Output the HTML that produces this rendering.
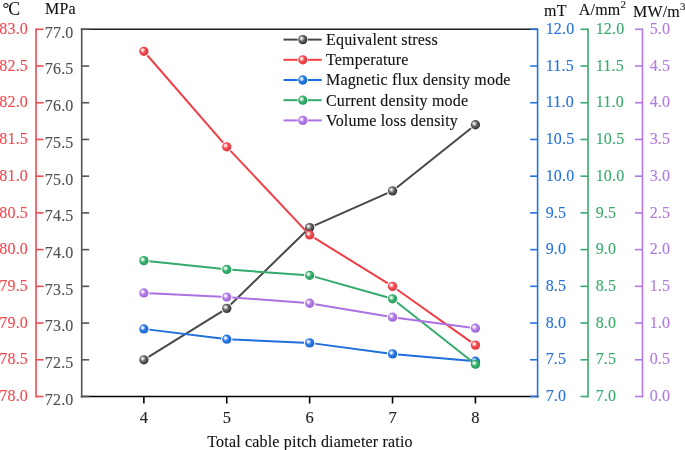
<!DOCTYPE html><html><head><meta charset="utf-8"><style>html,body{margin:0;padding:0;background:#fff;}svg{display:block;will-change:transform;}text{font-family:"Liberation Serif", serif;letter-spacing:0.18px;paint-order:stroke;stroke-width:0.12px;}</style></head><body>
<svg width="685" height="450" viewBox="0 0 685 450">
<defs>
<radialGradient id="sk" cx="0.42" cy="0.42" r="0.62" fx="0.35" fy="0.36"><stop offset="0" stop-color="#ffffff"/><stop offset="0.16" stop-color="#dcdcdc"/><stop offset="0.48" stop-color="#666666"/><stop offset="0.85" stop-color="#3c3c3c"/><stop offset="1" stop-color="#2a2a2a"/></radialGradient>
<radialGradient id="sr" cx="0.42" cy="0.42" r="0.62" fx="0.35" fy="0.36"><stop offset="0" stop-color="#ffffff"/><stop offset="0.16" stop-color="#ffe0e0"/><stop offset="0.48" stop-color="#f04a50"/><stop offset="0.85" stop-color="#e83a40"/><stop offset="1" stop-color="#d02a30"/></radialGradient>
<radialGradient id="sb" cx="0.42" cy="0.42" r="0.62" fx="0.35" fy="0.36"><stop offset="0" stop-color="#ffffff"/><stop offset="0.16" stop-color="#e0ecff"/><stop offset="0.48" stop-color="#2a78e4"/><stop offset="0.85" stop-color="#1f6bd8"/><stop offset="1" stop-color="#1458c0"/></radialGradient>
<radialGradient id="sg" cx="0.42" cy="0.42" r="0.62" fx="0.35" fy="0.36"><stop offset="0" stop-color="#ffffff"/><stop offset="0.16" stop-color="#e0f5e8"/><stop offset="0.48" stop-color="#36b06e"/><stop offset="0.85" stop-color="#2ba262"/><stop offset="1" stop-color="#1f8c50"/></radialGradient>
<radialGradient id="sp" cx="0.42" cy="0.42" r="0.62" fx="0.35" fy="0.36"><stop offset="0" stop-color="#ffffff"/><stop offset="0.16" stop-color="#f4e8ff"/><stop offset="0.48" stop-color="#b07ae6"/><stop offset="0.85" stop-color="#a66ddd"/><stop offset="1" stop-color="#9058c8"/></radialGradient>
</defs>
<rect width="685" height="450" fill="#fff"/>
<line x1="80.80" y1="29.30" x2="537.60" y2="29.30" stroke="#1c1c1c" stroke-width="1.6"/>
<line x1="80.80" y1="396.50" x2="538.50" y2="396.50" stroke="#000" stroke-width="1.6"/>
<line x1="143.87" y1="396.50" x2="143.87" y2="403.50" stroke="#000" stroke-width="1.6"/>
<text x="143.97" y="422.60" fill="#222" stroke="#222" font-size="16.5" text-anchor="middle" >4</text>
<line x1="226.76" y1="396.50" x2="226.76" y2="403.50" stroke="#000" stroke-width="1.6"/>
<text x="226.86" y="422.60" fill="#222" stroke="#222" font-size="16.5" text-anchor="middle" >5</text>
<line x1="309.65" y1="396.50" x2="309.65" y2="403.50" stroke="#000" stroke-width="1.6"/>
<text x="309.75" y="422.60" fill="#222" stroke="#222" font-size="16.5" text-anchor="middle" >6</text>
<line x1="392.54" y1="396.50" x2="392.54" y2="403.50" stroke="#000" stroke-width="1.6"/>
<text x="392.64" y="422.60" fill="#222" stroke="#222" font-size="16.5" text-anchor="middle" >7</text>
<line x1="475.43" y1="396.50" x2="475.43" y2="403.50" stroke="#000" stroke-width="1.6"/>
<text x="475.53" y="422.60" fill="#222" stroke="#222" font-size="16.5" text-anchor="middle" >8</text>
<text x="310.00" y="446.60" fill="#111" stroke="#111" font-size="16" text-anchor="middle" >Total cable pitch diameter ratio</text>
<line x1="81.70" y1="28.40" x2="81.70" y2="397.40" stroke="#555555" stroke-width="1.6"/>
<line x1="81.70" y1="396.50" x2="89.20" y2="396.50" stroke="#555555" stroke-width="1.6"/>
<text x="73.50" y="404.90" fill="#505050" stroke="#505050" font-size="16" text-anchor="end" >72.0</text>
<line x1="81.70" y1="359.78" x2="89.20" y2="359.78" stroke="#555555" stroke-width="1.6"/>
<text x="73.50" y="368.18" fill="#505050" stroke="#505050" font-size="16" text-anchor="end" >72.5</text>
<line x1="81.70" y1="323.06" x2="89.20" y2="323.06" stroke="#555555" stroke-width="1.6"/>
<text x="73.50" y="331.46" fill="#505050" stroke="#505050" font-size="16" text-anchor="end" >73.0</text>
<line x1="81.70" y1="286.34" x2="89.20" y2="286.34" stroke="#555555" stroke-width="1.6"/>
<text x="73.50" y="294.74" fill="#505050" stroke="#505050" font-size="16" text-anchor="end" >73.5</text>
<line x1="81.70" y1="249.62" x2="89.20" y2="249.62" stroke="#555555" stroke-width="1.6"/>
<text x="73.50" y="258.02" fill="#505050" stroke="#505050" font-size="16" text-anchor="end" >74.0</text>
<line x1="81.70" y1="212.90" x2="89.20" y2="212.90" stroke="#555555" stroke-width="1.6"/>
<text x="73.50" y="221.30" fill="#505050" stroke="#505050" font-size="16" text-anchor="end" >74.5</text>
<line x1="81.70" y1="176.18" x2="89.20" y2="176.18" stroke="#555555" stroke-width="1.6"/>
<text x="73.50" y="184.58" fill="#505050" stroke="#505050" font-size="16" text-anchor="end" >75.0</text>
<line x1="81.70" y1="139.46" x2="89.20" y2="139.46" stroke="#555555" stroke-width="1.6"/>
<text x="73.50" y="147.86" fill="#505050" stroke="#505050" font-size="16" text-anchor="end" >75.5</text>
<line x1="81.70" y1="102.74" x2="89.20" y2="102.74" stroke="#555555" stroke-width="1.6"/>
<text x="73.50" y="111.14" fill="#505050" stroke="#505050" font-size="16" text-anchor="end" >76.0</text>
<line x1="81.70" y1="66.02" x2="89.20" y2="66.02" stroke="#555555" stroke-width="1.6"/>
<text x="73.50" y="74.42" fill="#505050" stroke="#505050" font-size="16" text-anchor="end" >76.5</text>
<line x1="81.70" y1="29.30" x2="89.20" y2="29.30" stroke="#555555" stroke-width="1.6"/>
<text x="73.50" y="37.70" fill="#505050" stroke="#505050" font-size="16" text-anchor="end" >77.0</text>
<line x1="36.00" y1="28.40" x2="36.00" y2="397.40" stroke="#ee4a50" stroke-width="1.6"/>
<line x1="36.00" y1="396.50" x2="43.50" y2="396.50" stroke="#ee4a50" stroke-width="1.6"/>
<text x="28.00" y="401.20" fill="#ee4a50" stroke="#ee4a50" font-size="16" text-anchor="end" >78.0</text>
<line x1="36.00" y1="359.78" x2="43.50" y2="359.78" stroke="#ee4a50" stroke-width="1.6"/>
<text x="28.00" y="364.48" fill="#ee4a50" stroke="#ee4a50" font-size="16" text-anchor="end" >78.5</text>
<line x1="36.00" y1="323.06" x2="43.50" y2="323.06" stroke="#ee4a50" stroke-width="1.6"/>
<text x="28.00" y="327.76" fill="#ee4a50" stroke="#ee4a50" font-size="16" text-anchor="end" >79.0</text>
<line x1="36.00" y1="286.34" x2="43.50" y2="286.34" stroke="#ee4a50" stroke-width="1.6"/>
<text x="28.00" y="291.04" fill="#ee4a50" stroke="#ee4a50" font-size="16" text-anchor="end" >79.5</text>
<line x1="36.00" y1="249.62" x2="43.50" y2="249.62" stroke="#ee4a50" stroke-width="1.6"/>
<text x="28.00" y="254.32" fill="#ee4a50" stroke="#ee4a50" font-size="16" text-anchor="end" >80.0</text>
<line x1="36.00" y1="212.90" x2="43.50" y2="212.90" stroke="#ee4a50" stroke-width="1.6"/>
<text x="28.00" y="217.60" fill="#ee4a50" stroke="#ee4a50" font-size="16" text-anchor="end" >80.5</text>
<line x1="36.00" y1="176.18" x2="43.50" y2="176.18" stroke="#ee4a50" stroke-width="1.6"/>
<text x="28.00" y="180.88" fill="#ee4a50" stroke="#ee4a50" font-size="16" text-anchor="end" >81.0</text>
<line x1="36.00" y1="139.46" x2="43.50" y2="139.46" stroke="#ee4a50" stroke-width="1.6"/>
<text x="28.00" y="144.16" fill="#ee4a50" stroke="#ee4a50" font-size="16" text-anchor="end" >81.5</text>
<line x1="36.00" y1="102.74" x2="43.50" y2="102.74" stroke="#ee4a50" stroke-width="1.6"/>
<text x="28.00" y="107.44" fill="#ee4a50" stroke="#ee4a50" font-size="16" text-anchor="end" >82.0</text>
<line x1="36.00" y1="66.02" x2="43.50" y2="66.02" stroke="#ee4a50" stroke-width="1.6"/>
<text x="28.00" y="70.72" fill="#ee4a50" stroke="#ee4a50" font-size="16" text-anchor="end" >82.5</text>
<line x1="36.00" y1="29.30" x2="43.50" y2="29.30" stroke="#ee4a50" stroke-width="1.6"/>
<text x="28.00" y="34.00" fill="#ee4a50" stroke="#ee4a50" font-size="16" text-anchor="end" >83.0</text>
<line x1="537.60" y1="28.40" x2="537.60" y2="397.40" stroke="#2572de" stroke-width="1.6"/>
<line x1="530.10" y1="396.50" x2="537.60" y2="396.50" stroke="#2572de" stroke-width="1.6"/>
<text x="545.70" y="401.20" fill="#2572de" stroke="#2572de" font-size="16" text-anchor="start" >7.0</text>
<line x1="530.10" y1="359.78" x2="537.60" y2="359.78" stroke="#2572de" stroke-width="1.6"/>
<text x="545.70" y="364.48" fill="#2572de" stroke="#2572de" font-size="16" text-anchor="start" >7.5</text>
<line x1="530.10" y1="323.06" x2="537.60" y2="323.06" stroke="#2572de" stroke-width="1.6"/>
<text x="545.70" y="327.76" fill="#2572de" stroke="#2572de" font-size="16" text-anchor="start" >8.0</text>
<line x1="530.10" y1="286.34" x2="537.60" y2="286.34" stroke="#2572de" stroke-width="1.6"/>
<text x="545.70" y="291.04" fill="#2572de" stroke="#2572de" font-size="16" text-anchor="start" >8.5</text>
<line x1="530.10" y1="249.62" x2="537.60" y2="249.62" stroke="#2572de" stroke-width="1.6"/>
<text x="545.70" y="254.32" fill="#2572de" stroke="#2572de" font-size="16" text-anchor="start" >9.0</text>
<line x1="530.10" y1="212.90" x2="537.60" y2="212.90" stroke="#2572de" stroke-width="1.6"/>
<text x="545.70" y="217.60" fill="#2572de" stroke="#2572de" font-size="16" text-anchor="start" >9.5</text>
<line x1="530.10" y1="176.18" x2="537.60" y2="176.18" stroke="#2572de" stroke-width="1.6"/>
<text x="545.70" y="180.88" fill="#2572de" stroke="#2572de" font-size="16" text-anchor="start" >10.0</text>
<line x1="530.10" y1="139.46" x2="537.60" y2="139.46" stroke="#2572de" stroke-width="1.6"/>
<text x="545.70" y="144.16" fill="#2572de" stroke="#2572de" font-size="16" text-anchor="start" >10.5</text>
<line x1="530.10" y1="102.74" x2="537.60" y2="102.74" stroke="#2572de" stroke-width="1.6"/>
<text x="545.70" y="107.44" fill="#2572de" stroke="#2572de" font-size="16" text-anchor="start" >11.0</text>
<line x1="530.10" y1="66.02" x2="537.60" y2="66.02" stroke="#2572de" stroke-width="1.6"/>
<text x="545.70" y="70.72" fill="#2572de" stroke="#2572de" font-size="16" text-anchor="start" >11.5</text>
<line x1="530.10" y1="29.30" x2="537.60" y2="29.30" stroke="#2572de" stroke-width="1.6"/>
<text x="545.70" y="34.00" fill="#2572de" stroke="#2572de" font-size="16" text-anchor="start" >12.0</text>
<line x1="588.00" y1="28.40" x2="588.00" y2="397.40" stroke="#37ab6b" stroke-width="1.6"/>
<line x1="580.50" y1="396.50" x2="588.00" y2="396.50" stroke="#37ab6b" stroke-width="1.6"/>
<text x="595.70" y="401.20" fill="#37ab6b" stroke="#37ab6b" font-size="16" text-anchor="start" >7.0</text>
<line x1="580.50" y1="359.78" x2="588.00" y2="359.78" stroke="#37ab6b" stroke-width="1.6"/>
<text x="595.70" y="364.48" fill="#37ab6b" stroke="#37ab6b" font-size="16" text-anchor="start" >7.5</text>
<line x1="580.50" y1="323.06" x2="588.00" y2="323.06" stroke="#37ab6b" stroke-width="1.6"/>
<text x="595.70" y="327.76" fill="#37ab6b" stroke="#37ab6b" font-size="16" text-anchor="start" >8.0</text>
<line x1="580.50" y1="286.34" x2="588.00" y2="286.34" stroke="#37ab6b" stroke-width="1.6"/>
<text x="595.70" y="291.04" fill="#37ab6b" stroke="#37ab6b" font-size="16" text-anchor="start" >8.5</text>
<line x1="580.50" y1="249.62" x2="588.00" y2="249.62" stroke="#37ab6b" stroke-width="1.6"/>
<text x="595.70" y="254.32" fill="#37ab6b" stroke="#37ab6b" font-size="16" text-anchor="start" >9.0</text>
<line x1="580.50" y1="212.90" x2="588.00" y2="212.90" stroke="#37ab6b" stroke-width="1.6"/>
<text x="595.70" y="217.60" fill="#37ab6b" stroke="#37ab6b" font-size="16" text-anchor="start" >9.5</text>
<line x1="580.50" y1="176.18" x2="588.00" y2="176.18" stroke="#37ab6b" stroke-width="1.6"/>
<text x="595.70" y="180.88" fill="#37ab6b" stroke="#37ab6b" font-size="16" text-anchor="start" >10.0</text>
<line x1="580.50" y1="139.46" x2="588.00" y2="139.46" stroke="#37ab6b" stroke-width="1.6"/>
<text x="595.70" y="144.16" fill="#37ab6b" stroke="#37ab6b" font-size="16" text-anchor="start" >10.5</text>
<line x1="580.50" y1="102.74" x2="588.00" y2="102.74" stroke="#37ab6b" stroke-width="1.6"/>
<text x="595.70" y="107.44" fill="#37ab6b" stroke="#37ab6b" font-size="16" text-anchor="start" >11.0</text>
<line x1="580.50" y1="66.02" x2="588.00" y2="66.02" stroke="#37ab6b" stroke-width="1.6"/>
<text x="595.70" y="70.72" fill="#37ab6b" stroke="#37ab6b" font-size="16" text-anchor="start" >11.5</text>
<line x1="580.50" y1="29.30" x2="588.00" y2="29.30" stroke="#37ab6b" stroke-width="1.6"/>
<text x="595.70" y="34.00" fill="#37ab6b" stroke="#37ab6b" font-size="16" text-anchor="start" >12.0</text>
<line x1="642.50" y1="28.40" x2="642.50" y2="397.40" stroke="#b07ae2" stroke-width="1.6"/>
<line x1="635.00" y1="396.50" x2="642.50" y2="396.50" stroke="#b07ae2" stroke-width="1.6"/>
<text x="649.70" y="401.20" fill="#b07ae2" stroke="#b07ae2" font-size="16" text-anchor="start" >0.0</text>
<line x1="635.00" y1="359.78" x2="642.50" y2="359.78" stroke="#b07ae2" stroke-width="1.6"/>
<text x="649.70" y="364.48" fill="#b07ae2" stroke="#b07ae2" font-size="16" text-anchor="start" >0.5</text>
<line x1="635.00" y1="323.06" x2="642.50" y2="323.06" stroke="#b07ae2" stroke-width="1.6"/>
<text x="649.70" y="327.76" fill="#b07ae2" stroke="#b07ae2" font-size="16" text-anchor="start" >1.0</text>
<line x1="635.00" y1="286.34" x2="642.50" y2="286.34" stroke="#b07ae2" stroke-width="1.6"/>
<text x="649.70" y="291.04" fill="#b07ae2" stroke="#b07ae2" font-size="16" text-anchor="start" >1.5</text>
<line x1="635.00" y1="249.62" x2="642.50" y2="249.62" stroke="#b07ae2" stroke-width="1.6"/>
<text x="649.70" y="254.32" fill="#b07ae2" stroke="#b07ae2" font-size="16" text-anchor="start" >2.0</text>
<line x1="635.00" y1="212.90" x2="642.50" y2="212.90" stroke="#b07ae2" stroke-width="1.6"/>
<text x="649.70" y="217.60" fill="#b07ae2" stroke="#b07ae2" font-size="16" text-anchor="start" >2.5</text>
<line x1="635.00" y1="176.18" x2="642.50" y2="176.18" stroke="#b07ae2" stroke-width="1.6"/>
<text x="649.70" y="180.88" fill="#b07ae2" stroke="#b07ae2" font-size="16" text-anchor="start" >3.0</text>
<line x1="635.00" y1="139.46" x2="642.50" y2="139.46" stroke="#b07ae2" stroke-width="1.6"/>
<text x="649.70" y="144.16" fill="#b07ae2" stroke="#b07ae2" font-size="16" text-anchor="start" >3.5</text>
<line x1="635.00" y1="102.74" x2="642.50" y2="102.74" stroke="#b07ae2" stroke-width="1.6"/>
<text x="649.70" y="107.44" fill="#b07ae2" stroke="#b07ae2" font-size="16" text-anchor="start" >4.0</text>
<line x1="635.00" y1="66.02" x2="642.50" y2="66.02" stroke="#b07ae2" stroke-width="1.6"/>
<text x="649.70" y="70.72" fill="#b07ae2" stroke="#b07ae2" font-size="16" text-anchor="start" >4.5</text>
<line x1="635.00" y1="29.30" x2="642.50" y2="29.30" stroke="#b07ae2" stroke-width="1.6"/>
<text x="649.70" y="34.00" fill="#b07ae2" stroke="#b07ae2" font-size="16" text-anchor="start" >5.0</text>
<text x="2.40" y="14.40" fill="#111" stroke="#111" font-size="17" text-anchor="start" >°</text>
<text x="8.30" y="14.60" fill="#111" stroke="#111" font-size="17.8" text-anchor="start" >C</text>
<text x="45.00" y="13.70" fill="#111" stroke="#111" font-size="16" text-anchor="start" >MPa</text>
<text x="544.00" y="15.50" fill="#111" stroke="#111" font-size="16" text-anchor="start" >mT</text>
<text x="578.80" y="15.00" fill="#111" stroke="#111" font-size="16" text-anchor="start" >A/mm<tspan dy="-7" font-size="11">2</tspan></text>
<text x="633.00" y="16.50" fill="#111" stroke="#111" font-size="16" text-anchor="start" >MW/m<tspan dy="-7" font-size="11">3</tspan></text>
<line x1="148.58" y1="356.85" x2="222.04" y2="311.30" stroke="#484848" stroke-width="2.0"/>
<line x1="230.73" y1="304.50" x2="305.68" y2="231.46" stroke="#484848" stroke-width="2.0"/>
<line x1="314.72" y1="225.34" x2="387.47" y2="193.12" stroke="#484848" stroke-width="2.0"/>
<line x1="396.88" y1="187.41" x2="471.09" y2="128.23" stroke="#484848" stroke-width="2.0"/>
<circle cx="143.87" cy="359.78" r="4.65" fill="url(#sk)"/>
<circle cx="226.76" cy="308.37" r="4.65" fill="url(#sk)"/>
<circle cx="309.65" cy="227.59" r="4.65" fill="url(#sk)"/>
<circle cx="392.54" cy="190.87" r="4.65" fill="url(#sk)"/>
<circle cx="475.43" cy="124.77" r="4.65" fill="url(#sk)"/>
<line x1="147.51" y1="55.52" x2="223.12" y2="142.61" stroke="#ef3f45" stroke-width="2.0"/>
<line x1="230.56" y1="150.85" x2="305.85" y2="230.89" stroke="#ef3f45" stroke-width="2.0"/>
<line x1="314.37" y1="237.86" x2="387.82" y2="283.41" stroke="#ef3f45" stroke-width="2.0"/>
<line x1="397.07" y1="289.55" x2="470.90" y2="341.88" stroke="#ef3f45" stroke-width="2.0"/>
<circle cx="143.87" cy="51.33" r="4.65" fill="url(#sr)"/>
<circle cx="226.76" cy="146.80" r="4.65" fill="url(#sr)"/>
<circle cx="309.65" cy="234.93" r="4.65" fill="url(#sr)"/>
<circle cx="392.54" cy="286.34" r="4.65" fill="url(#sr)"/>
<circle cx="475.43" cy="345.09" r="4.65" fill="url(#sr)"/>
<line x1="149.38" y1="329.62" x2="221.25" y2="338.53" stroke="#1f6fdc" stroke-width="2.0"/>
<line x1="232.30" y1="339.46" x2="304.11" y2="342.64" stroke="#1f6fdc" stroke-width="2.0"/>
<line x1="315.15" y1="343.62" x2="387.04" y2="353.17" stroke="#1f6fdc" stroke-width="2.0"/>
<line x1="398.07" y1="354.39" x2="469.90" y2="360.76" stroke="#1f6fdc" stroke-width="2.0"/>
<circle cx="143.87" cy="328.94" r="4.65" fill="url(#sb)"/>
<circle cx="226.76" cy="339.22" r="4.65" fill="url(#sb)"/>
<circle cx="309.65" cy="342.89" r="4.65" fill="url(#sb)"/>
<circle cx="392.54" cy="353.90" r="4.65" fill="url(#sb)"/>
<circle cx="475.43" cy="361.25" r="4.65" fill="url(#sb)"/>
<line x1="149.39" y1="261.22" x2="221.24" y2="268.86" stroke="#33ab6a" stroke-width="2.0"/>
<line x1="232.30" y1="269.84" x2="304.11" y2="274.93" stroke="#33ab6a" stroke-width="2.0"/>
<line x1="314.99" y1="276.84" x2="387.20" y2="297.31" stroke="#33ab6a" stroke-width="2.0"/>
<line x1="396.90" y1="302.26" x2="471.07" y2="360.75" stroke="#33ab6a" stroke-width="2.0"/>
<circle cx="143.87" cy="260.64" r="4.65" fill="url(#sg)"/>
<circle cx="226.76" cy="269.45" r="4.65" fill="url(#sg)"/>
<circle cx="309.65" cy="275.32" r="4.65" fill="url(#sg)"/>
<circle cx="392.54" cy="298.82" r="4.65" fill="url(#sg)"/>
<circle cx="475.43" cy="364.19" r="4.65" fill="url(#sg)"/>
<line x1="149.41" y1="293.22" x2="221.22" y2="296.79" stroke="#ad72e2" stroke-width="2.0"/>
<line x1="232.29" y1="297.47" x2="304.12" y2="302.82" stroke="#ad72e2" stroke-width="2.0"/>
<line x1="315.12" y1="304.15" x2="387.07" y2="316.26" stroke="#ad72e2" stroke-width="2.0"/>
<line x1="398.04" y1="317.92" x2="469.93" y2="327.47" stroke="#ad72e2" stroke-width="2.0"/>
<circle cx="143.87" cy="292.95" r="4.65" fill="url(#sp)"/>
<circle cx="226.76" cy="297.06" r="4.65" fill="url(#sp)"/>
<circle cx="309.65" cy="303.23" r="4.65" fill="url(#sp)"/>
<circle cx="392.54" cy="317.18" r="4.65" fill="url(#sp)"/>
<circle cx="475.43" cy="328.20" r="4.65" fill="url(#sp)"/>
<line x1="283.50" y1="39.60" x2="297.55" y2="39.60" stroke="#484848" stroke-width="2.0"/>
<line x1="308.05" y1="39.60" x2="321.70" y2="39.60" stroke="#484848" stroke-width="2.0"/>
<circle cx="302.8" cy="39.60" r="4.65" fill="url(#sk)"/>
<text x="326.00" y="44.90" fill="#111" stroke="#111" font-size="16" text-anchor="start" >Equivalent stress</text>
<line x1="283.50" y1="59.80" x2="297.55" y2="59.80" stroke="#ef3f45" stroke-width="2.0"/>
<line x1="308.05" y1="59.80" x2="321.70" y2="59.80" stroke="#ef3f45" stroke-width="2.0"/>
<circle cx="302.8" cy="59.80" r="4.65" fill="url(#sr)"/>
<text x="326.00" y="65.10" fill="#111" stroke="#111" font-size="16" text-anchor="start" >Temperature</text>
<line x1="283.50" y1="80.00" x2="297.55" y2="80.00" stroke="#1f6fdc" stroke-width="2.0"/>
<line x1="308.05" y1="80.00" x2="321.70" y2="80.00" stroke="#1f6fdc" stroke-width="2.0"/>
<circle cx="302.8" cy="80.00" r="4.65" fill="url(#sb)"/>
<text x="326.00" y="85.30" fill="#111" stroke="#111" font-size="16" text-anchor="start" >Magnetic flux density mode</text>
<line x1="283.50" y1="100.20" x2="297.55" y2="100.20" stroke="#33ab6a" stroke-width="2.0"/>
<line x1="308.05" y1="100.20" x2="321.70" y2="100.20" stroke="#33ab6a" stroke-width="2.0"/>
<circle cx="302.8" cy="100.20" r="4.65" fill="url(#sg)"/>
<text x="326.00" y="105.50" fill="#111" stroke="#111" font-size="16" text-anchor="start" >Current density mode</text>
<line x1="283.50" y1="120.40" x2="297.55" y2="120.40" stroke="#ad72e2" stroke-width="2.0"/>
<line x1="308.05" y1="120.40" x2="321.70" y2="120.40" stroke="#ad72e2" stroke-width="2.0"/>
<circle cx="302.8" cy="120.40" r="4.65" fill="url(#sp)"/>
<text x="326.00" y="125.70" fill="#111" stroke="#111" font-size="16" text-anchor="start" >Volume loss density</text>
</svg></body></html>
